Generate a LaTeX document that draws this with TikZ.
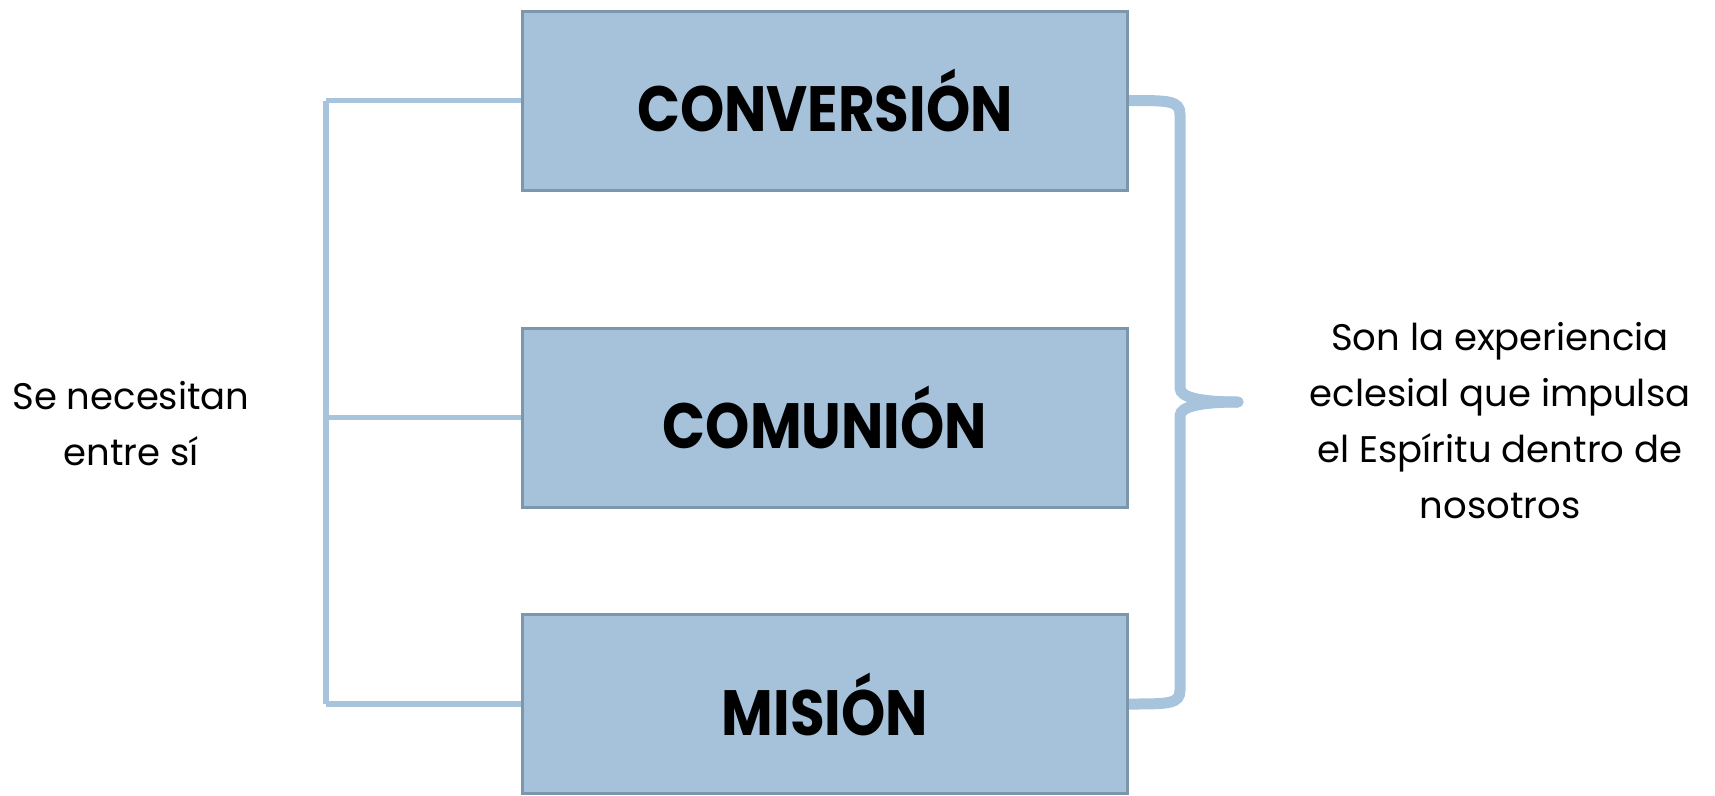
\documentclass[tikz,border=0pt]{standalone}
\usepackage{fontspec}
\setmainfont{Poppins}
\newfontfamily\stagefont{Poppins}[FakeStretch=0.88]
\usetikzlibrary{calc,backgrounds}
\definecolor{boxfill}{HTML}{A5C2DA}
\definecolor{boxline}{HTML}{7C96AC}
\definecolor{linkcol}{HTML}{A7C4DC}
\tikzset{
  stage/.style={draw=boxline, line width=3pt, fill=boxfill, minimum width=605pt, minimum height=179pt,
    inner sep=0pt, font=\stagefont\fontsize{64}{76}\selectfont\bfseries},
  note/.style={align=center, inner sep=0pt, font=\fontsize{37}{56}\selectfont},
  link/.style={draw=linkcol, line width=5.5pt},
  bracecol/.style={draw=linkcol, line width=11pt, line cap=round}
}
\begin{document}
\begin{tikzpicture}[x=1pt, y=-1pt]
        \useasboundingbox (0,0) rectangle (1715,795);

        % Draw the three boxes
        \node[stage] (conv) at (825,100.5) {CONVERSIÓN};
        \node[stage] (com) at (825,417.5) {COMUNIÓN};
        \node[stage] (mision) at (825,704) {MISIÓN};

        % Side texts
        \node[note] (need) at (131,424) {Se necesitan\\entre sí};
        \node[note] (exp) at (1500,421) {Son la experiencia\\eclesial que impulsa\\el Espíritu dentro de\\nosotros};

        \coordinate (rail) at (326,0);
        \coordinate (spine) at (1180,402);
        \coordinate (tip) at (1238,402);

        \begin{scope}[on background layer]
        % Left bracket
        \foreach \n in {conv,com,mision}
            \draw[link] (\n.west) -- (\n.west -| rail);
        \draw[link] (conv.west -| rail) -- (mision.west -| rail);

        % Right brace
        \draw[bracecol] (conv.east) .. controls +(40,0) and +(0,-14) .. ($(conv.east -| spine)+(0,14)$)
            -- ($(spine)+(0,-14)$) .. controls +(0,10) and +(-35,0) .. (tip);
        \draw[bracecol] (tip) .. controls +(-35,0) and +(0,-10) .. ($(spine)+(0,14)$)
            -- ($(mision.east -| spine)+(0,-14)$) .. controls +(0,14) and +(40,0) .. (mision.east);
        \end{scope}
    \end{tikzpicture}
\end{document}
